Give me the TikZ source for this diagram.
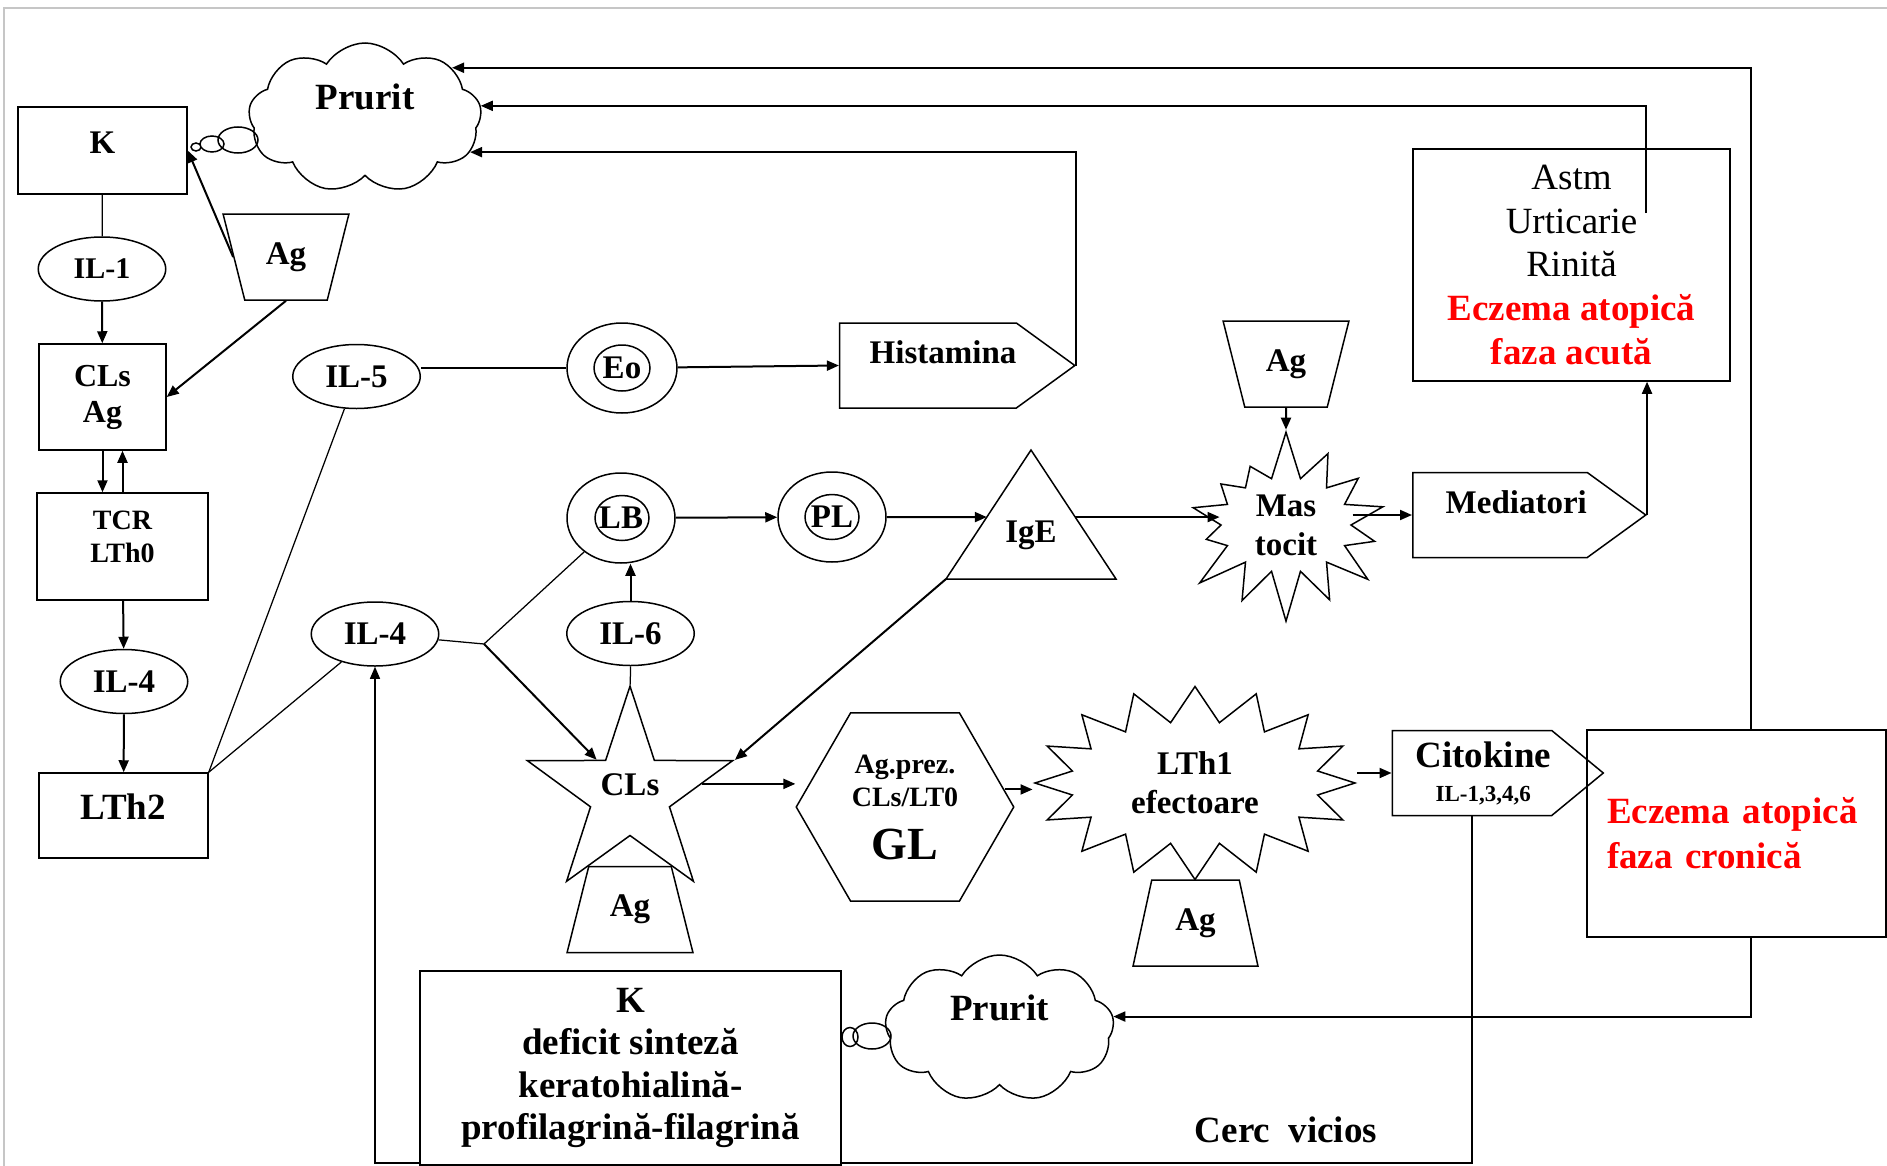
\documentclass[tikz,border=0pt]{standalone}
\usepackage{fontspec}
\setmainfont{Liberation Serif}
\usetikzlibrary{shapes.geometric,shapes.symbols,arrows.meta,calc}
\newcommand\fsXL{\fontsize{18.4}{20}\selectfont}
\newcommand\fsL{\fontsize{14.8}{17.5}\selectfont}
\newcommand\fsM{\fontsize{13.2}{15.6}\selectfont}
\newcommand\fsS{\fontsize{11.2}{13.2}\selectfont}
\newcommand\fsXS{\fontsize{9.2}{11}\selectfont}

\begin{document}
\begin{tikzpicture}[x=0.4pt,y=-0.4pt,line width=0.6pt,
    font=\bfseries\fsM,>={Triangle[length=4.8pt,width=4pt]},
    box/.style={draw,inner sep=0pt,align=center},
    cell/.style={draw,ellipse,inner sep=0pt,minimum width=51pt,minimum height=25.6pt},
    nucleus/.style={draw,ellipse,inner sep=0pt,minimum width=21.6pt,minimum height=18pt},
    agbox/.style={draw,trapezium,trapezium stretches=true,trapezium left angle=70,
        trapezium right angle=70,inner sep=0pt,minimum width=50.4pt,minimum height=34.4pt},
    flag/.style={draw,signal,signal to=east,inner sep=0pt,minimum height=34pt},
    puff/.style={draw,cloud,cloud puffs=9,cloud puff arc=115,cloud ignores aspect,
        inner sep=0pt,font=\bfseries\fsL,text depth=16.8pt},
    arr/.style={->,line width=0.8pt},
    wire/.style={line width=0.5pt}]
    \useasboundingbox (0,0) rectangle (1887,1166);
    \draw[gray!45,line width=0.8pt] (4,1166) -- (4,8) -- (1887,8);

    \node[box,minimum width=67.6pt,minimum height=34.8pt,text depth=6pt] (K) at (102.5,150.5) {K};
    \node[puff,minimum width=93.2pt,minimum height=60pt] (prurA) at (365,118) {Prurit};
    \draw (196,147) ellipse [x radius=5,y radius=4] (212,144) ellipse [x radius=12,y radius=8]
        (238,140) ellipse [x radius=20,y radius=13];
    \node[cell,font=\bfseries\fontsize{12}{14}\selectfont] (IL1) at (102,269) {IL-1};
    \node[box,minimum width=50.8pt,minimum height=42.4pt,
        font=\bfseries\fontsize{12.8}{14.4}\selectfont] (CLsAg) at (102.5,397) {CLs\\Ag};
    \node[agbox,shape border rotate=180] (agA) at (286,257) {Ag};
    \node[box,minimum width=68.4pt,minimum height=42.8pt,font=\bfseries\fsS,
        text depth=8pt] (TCR) at (122.5,546.5) {TCR\\LTh0};
    \node[cell] (IL4a) at (124,681.5) {IL-4};
    \node[box,minimum width=67.6pt,minimum height=34pt,font=\bfseries\fsL,
        text depth=6.8pt] (LTh2) at (123.5,815.5) {LTh2};
    \node[cell] (IL5) at (356.5,376.5) {IL-5};
    \node[cell] (IL4b) at (375,634) {IL-4};
    \node[cell] (IL6) at (630.5,633.5) {IL-6};

    \node[draw,ellipse,inner sep=0pt,minimum width=44pt,minimum height=36pt] (Eo) at (622,368) {Eo};
    \node[nucleus,minimum width=22.4pt,minimum height=18.4pt] (Eon) at (622,368) {};
    \node[draw,ellipse,inner sep=0pt,minimum width=43.2pt,minimum height=36pt] (LB) at (621,518) {LB};
    \node[nucleus] (LBn) at (622,518) {};
    \node[draw,ellipse,inner sep=0pt,minimum width=43.2pt,minimum height=36pt] (PL) at (832,517) {PL};
    \node[nucleus] (PLn) at (832,517) {};

    \node[flag,signal pointer angle=72,minimum width=93.2pt,text depth=10.8pt] (hist) at (928,365.5)
        {\hspace*{12pt}Histamina};

    \draw (1031,450) coordinate (igeT) -- (946,579) coordinate (igeL)
        -- (1116,579) coordinate (igeR) -- cycle;
    \node (IgE) at (1031,535) {IgE};

    \node[draw,star,star points=5,star point ratio=2.6,minimum size=84.8pt,inner sep=0pt,
        text depth=7.2pt] (CLs) at (630,794) {CLs};
    \node[agbox] (agB) at (630,909.5) {Ag};
    \node[draw,regular polygon,regular polygon sides=6,minimum size=87pt,inner sep=0pt,
        align=center,font=\bfseries\fsS] (GL) at (905,807) {Ag.prez.\\CLs/LT0\\[8pt]{\fsXL GL}};
    \node[draw,starburst,starburst points=16,starburst point height=14pt,random starburst=0,
        minimum width=128pt,minimum height=77.2pt,inner sep=0pt,align=center] (LTh1) at (1195,783) {LTh1\\efectoare};
    \node[agbox,trapezium left angle=73.5,trapezium right angle=73.5,minimum width=50pt] (agD) at (1195.5,923) {Ag};
    \node[flag,signal pointer angle=79,minimum width=84.4pt,align=center] (cit) at (1472,773)
        {{\fsL\hspace*{9pt}Citokine}\\[-2pt]{\fsXS\hspace*{9pt}IL-1,3,4,6}};
    \node[box,minimum width=119.6pt,minimum height=82.8pt,text width=103.6pt,inner xsep=8pt,
        align=left,text=red,font=\bfseries\fontsize{14.8}{18}\selectfont] (cron) at (1736.5,833.5)
        {Eczema atopică\\faza cronică};

    \node[agbox,shape border rotate=180] (agC) at (1286,364) {Ag};
    \node[draw,starburst,starburst points=14,starburst point height=20pt,random starburst=7,
        minimum width=92pt,minimum height=78pt,inner sep=0pt,align=center] (masto) at (1286,525) {Mas\\tocit};
    \node[flag,signal pointer angle=72,minimum width=93.2pt,text depth=10.4pt] (medi) at (1500,515)
        {\hspace*{13pt}Mediatori};
    \node[box,minimum width=126.8pt,minimum height=92.8pt,font=\fsL] (astm) at (1571.5,265)
        {Astm\\Urticarie\\Rinită\\\textcolor{red}{\textbf{Eczema atopică}}\\\textcolor{red}{\textbf{faza acută}}};

    \coordinate (vc) at (0,1163);
    \draw[->,wire] (cit.south) |- (IL4b.south |- vc) -- (IL4b.south);
    \node[box,fill=white,minimum width=168.4pt,minimum height=77.6pt,
        font=\bfseries\fontsize{14.8}{17}\selectfont] (Kdef) at (630.5,1068)
        {K\\deficit sinteză\\keratohialină-\\profilagrină-filagrină};
    \node[puff,minimum width=91.6pt,minimum height=58.8pt] (prurB) at (999.5,1028.5) {Prurit};
    \draw (850,1037) ellipse [x radius=8,y radius=9.5] (872,1036) ellipse [x radius=19,y radius=13];
    \node[font=\bfseries\fsL] (cerc) at (1286,1130) {Cerc~~vicios};

    \draw[wire] (K) -- (IL1);
    \draw[arr] (IL1) -- (CLsAg);
    \draw[arr] (agA.180) -- (K.east);
    \draw[arr] (agA.270) -- (CLsAg.east);
    \draw[arr] (CLsAg.south) -- (CLsAg.south |- TCR.north);
    \draw[arr] (TCR.north) -- (TCR.north |- CLsAg.south);
    \draw[arr] (TCR) -- (IL4a);
    \draw[arr] (IL4a) -- (LTh2);
    \draw[wire] (LTh2.north east) -- (IL5);
    \draw[wire] (LTh2.north east) -- (IL4b);
    \draw[wire] (Eo.west -| IL5.east) -- (Eo.west);
    \draw[arr] (Eo) -- (hist.west);
    \draw[arr] (hist.east) |- (prurA.-18);
    \coordinate (urt) at (1646,213);
    \draw[arr] (urt) |- (prurA.6);
    \draw[arr] ([xshift=5.6pt]cron.north) |- (prurA.30);
    \draw[arr] ([xshift=5.6pt]cron.south) |- (prurB.6);

    \coordinate (br) at (484,644);
    \draw[wire] (IL4b) -- (br) -- (LB);
    \draw[arr] (br) -- (CLs);
    \draw[arr] (IL6.north) -- (IL6.north |- LB.south);
    \draw[wire] (IL6) -- (CLs);
    \draw[arr] (LB) -- (PL);
    \draw[arr] (PL) -- ($(igeT)!0.52!(igeL)$);
    \coordinate (igeP) at ($(igeT)!0.52!(igeR)$);
    \draw[arr] (igeP) -- (igeP -| masto.west);
    \draw[arr] (igeL) -- (CLs.18);
    \draw[arr] (CLs.8) -- (CLs.8 -| GL.west);
    \draw[arr] (GL.10) -- (GL.10 -| LTh1.west);
    \draw[arr] (cit.west -| LTh1.east) -- (cit.west);
    \draw[arr] (agC) -- (masto);
    \draw[arr] (medi.west -| masto.east) -- (medi.west);
    \draw[arr] (medi.east) -- (medi.east |- astm.south);
\end{tikzpicture}
\end{document}
